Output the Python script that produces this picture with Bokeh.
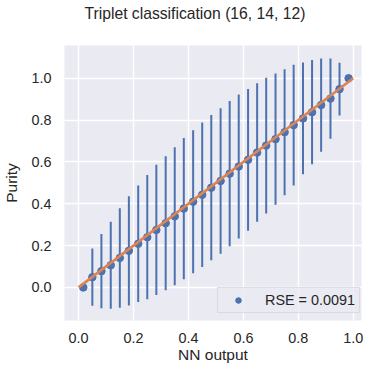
from bokeh.plotting import figure
from bokeh.models import (Range1d, FixedTicker, PrintfTickFormatter,
                          ColumnDataSource, Legend, LegendItem, Title)
from bokeh.embed import file_html
from bokeh.resources import INLINE

# Bin centres of the NN output and the mean purity in each bin
nn_output = [0.017, 0.050, 0.083, 0.117, 0.150, 0.183, 0.217, 0.250, 0.283, 0.317,
             0.350, 0.383, 0.417, 0.450, 0.483, 0.517, 0.550, 0.583, 0.617, 0.650,
             0.683, 0.717, 0.750, 0.783, 0.817, 0.850, 0.883, 0.917, 0.950, 0.983]
purity = [0.000, 0.049, 0.078, 0.106, 0.141, 0.175, 0.209, 0.240, 0.275, 0.307,
          0.340, 0.377, 0.410, 0.443, 0.477, 0.509, 0.544, 0.578, 0.610, 0.645,
          0.678, 0.709, 0.742, 0.776, 0.808, 0.838, 0.872, 0.903, 0.948, 1.000]
# Spread of the purity inside each bin (half length of the error bar)
purity_err = [0.000, 0.137, 0.177, 0.208, 0.238, 0.261, 0.278, 0.297, 0.311, 0.320,
              0.330, 0.338, 0.342, 0.345, 0.347, 0.348, 0.347, 0.344, 0.339, 0.331,
              0.325, 0.314, 0.301, 0.289, 0.267, 0.249, 0.223, 0.192, 0.126, 0.000]
# Ideal calibration line
ideal_x = [0.0, 1.0]
ideal_y = [0.0, 1.0]
ticks = [0.0, 0.2, 0.4, 0.6, 0.8, 1.0]
legend_label = "RSE = 0.0091"
title_text = "Triplet classification (16, 14, 12)"
x_label = "NN output"
y_label = "Purity"

BLUE = "#4c72b0"
ORANGE = "#dd8452"
TEXT = "#262626"
FONT = "Liberation Sans"

src = ColumnDataSource(dict(
    x=nn_output,
    y=purity,
    lo=[p - e for p, e in zip(purity, purity_err)],
    hi=[p + e for p, e in zip(purity, purity_err)],
))

p = figure(width=365, height=366,
           x_range=Range1d(-0.0514, 1.030), y_range=Range1d(-0.158, 1.1566),
           output_backend="svg", toolbar_location=None,
           min_border_left=60, min_border_right=4,
           min_border_top=45, min_border_bottom=46)

p.background_fill_color = "#eaeaf2"
p.border_fill_color = "white"
p.outline_line_color = None

p.title.text = title_text
p.title.text_font = FONT
p.title.text_font_size = "15.7px"
p.title.text_font_style = "normal"
p.title.text_color = TEXT
p.title.align = "left"
p.title.offset = 20
p.title.standoff = 4

# blank band between the title and the plot area
p.add_layout(Title(text=" ", text_font_size="1px", standoff=19), "above")

for ax in (p.xaxis[0], p.yaxis[0]):
    ax.ticker = FixedTicker(ticks=ticks)
    ax.formatter = PrintfTickFormatter(format="%.1f")
    ax.axis_line_color = None
    ax.major_tick_line_color = None
    ax.minor_tick_line_color = None
    ax.major_tick_out = 0
    ax.major_tick_in = 0
    ax.major_label_text_font = FONT
    ax.major_label_text_font_size = "14.4px"
    ax.major_label_text_color = TEXT
    ax.axis_label_text_font = FONT
    ax.axis_label_text_font_size = "15.5px"
    ax.axis_label_text_font_style = "normal"
    ax.axis_label_text_color = TEXT

p.xaxis.axis_label = x_label
p.yaxis.axis_label = y_label
p.xaxis.major_label_standoff = 12
p.xaxis.axis_label_standoff = 0
p.yaxis.major_label_standoff = 13
p.yaxis.axis_label_standoff = 8

for g in (p.xgrid[0], p.ygrid[0]):
    g.ticker = FixedTicker(ticks=ticks)
    g.grid_line_color = "white"
    g.grid_line_width = 1.4

# error bars, bin means, then the ideal diagonal on top
p.segment(x0="x", y0="lo", x1="x", y1="hi", source=src,
          line_color=BLUE, line_width=2)
pts = p.scatter(x="x", y="y", source=src, size=7.5,
                fill_color=BLUE, line_color=BLUE)
p.line(ideal_x, ideal_y, line_color=ORANGE, line_width=2.7)

legend = Legend(items=[LegendItem(label=legend_label, renderers=[pts])],
                location=(153, 7), orientation="vertical",
                padding=4, spacing=0, margin=0,
                glyph_width=32, glyph_height=14, label_height=14,
                label_standoff=11,
                label_text_font=FONT, label_text_font_size="14.4px",
                label_text_color=TEXT,
                border_line_color="#cccccc", border_line_width=1,
                background_fill_color="#eaeaf2", background_fill_alpha=0.8)
p.add_layout(legend)

open("out.html", "w").write(file_html(p, INLINE))
